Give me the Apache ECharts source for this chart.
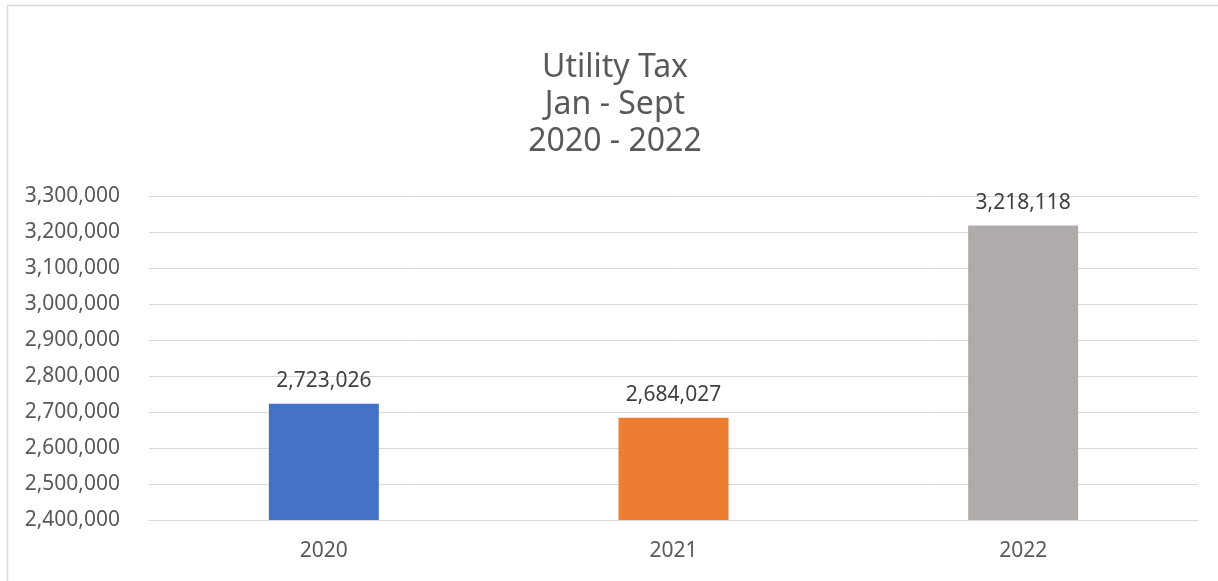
<!DOCTYPE html>
<html>
<head>
<meta charset="utf-8">
<script src="https://cdn.jsdelivr.net/npm/echarts@6/dist/echarts.min.js"></script>
<style>html,body{margin:0;padding:0;background:#fff;}#c{width:1218px;height:581px;}</style>
</head>
<body>
<div id="c"></div>
<script>
const categories = ['2020', '2021', '2022'];
const values = [2723026, 2684027, 3218118];
const barColors = ['#4472C4', '#ED7D31', '#AFABAB'];
const titleLines = ['Utility Tax', 'Jan - Sept', '2020 - 2022'];
const yMin = 2400000, yMax = 3300000, yStep = 100000;

const FONT = '"Noto Sans", "Open Sans", sans-serif';
const chart = echarts.init(document.getElementById('c'), null, {renderer: 'canvas'});
chart.setOption({
  animation: false,
  backgroundColor: '#fff',
  textStyle: {fontFamily: FONT},
  graphic: [{
    type: 'rect', silent: true,
    shape: {x: 7.5, y: 5.5, width: 1400, height: 800},
    style: {fill: 'none', stroke: '#D9D9D9', lineWidth: 1.5}
  }],
  title: {
    text: titleLines.join('\n'),
    left: 610, top: 44, textAlign: 'center',
    textStyle: {fontFamily: FONT, fontSize: 32, fontWeight: 'normal', color: '#595959', lineHeight: 37}
  },
  grid: {left: 149, right: 20, top: 196, bottom: 61, containLabel: false},
  xAxis: {
    type: 'category', data: categories,
    axisLine: {lineStyle: {color: '#D9D9D9', width: 1}},
    axisTick: {show: false},
    axisLabel: {fontFamily: FONT, fontSize: 21, color: '#595959', margin: 21}
  },
  yAxis: {
    type: 'value', min: yMin, max: yMax, interval: yStep,
    axisLine: {show: false}, axisTick: {show: false},
    splitLine: {lineStyle: {color: '#D9D9D9', width: 1}},
    axisLabel: {fontFamily: FONT, fontSize: 21, color: '#595959', margin: 29,
      formatter: v => v.toLocaleString('en-US')}
  },
  series: [{
    type: 'bar', barWidth: 110,
    data: values.map((v, i) => ({value: v, itemStyle: {color: barColors[i]}})),
    label: {show: true, position: 'top', distance: 12, fontFamily: FONT, fontSize: 21, color: '#404040',
      formatter: p => p.value.toLocaleString('en-US')}
  }]
});
</script>
</body>
</html>
